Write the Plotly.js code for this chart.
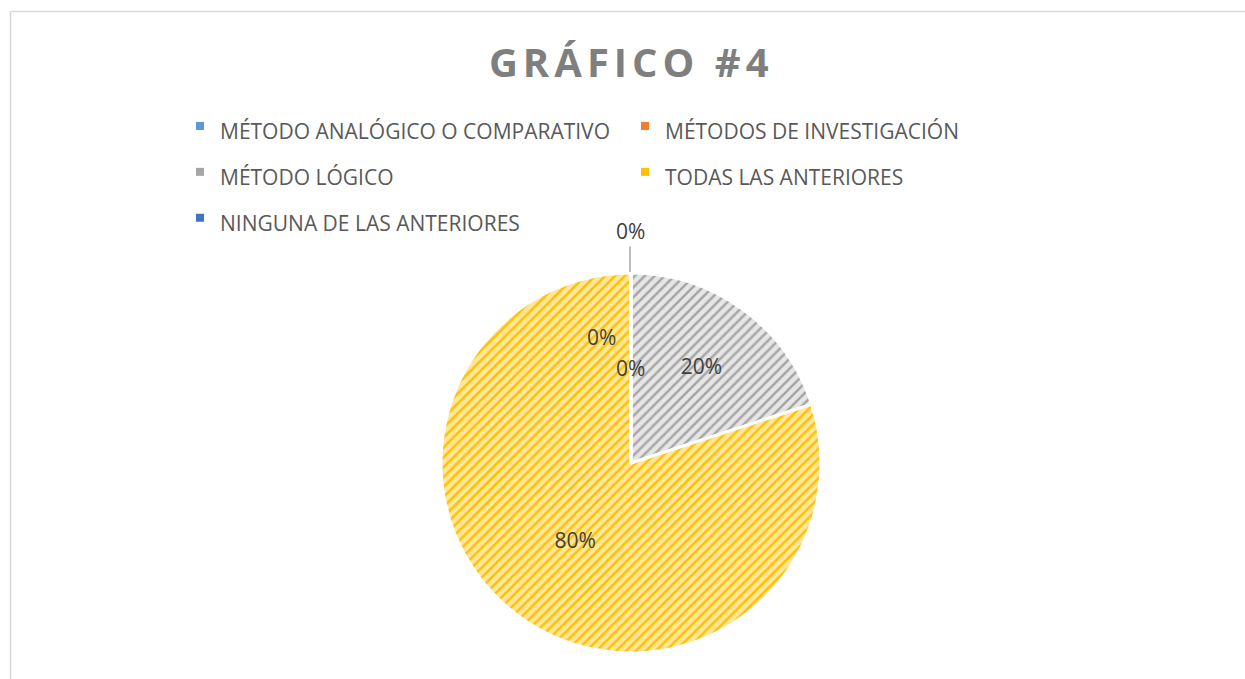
<!DOCTYPE html>
<html>
<head>
<meta charset="utf-8">
<script src="https://cdn.plot.ly/plotly-3.0.1.min.js"></script>
<style>
html,body{margin:0;padding:0;background:#fff;}
#chart{width:1245px;height:679px;}
</style>
</head>
<body>
<div id="chart"></div>
<script>
const categories = [
  "MÉTODO ANALÓGICO O COMPARATIVO",
  "MÉTODOS DE INVESTIGACIÓN",
  "MÉTODO LÓGICO",
  "TODAS LAS ANTERIORES",
  "NINGUNA DE LAS ANTERIORES"
];
const values = [0, 0, 20, 80, 0];
const chartTitle = "GRÁFICO #4";

const baseColors = ["#9dc3e6", "#f4b183", "#e6e6e6", "#ffe699", "#8faadc"];
const stripeColors = ["#5b9bd5", "#ed7d31", "#a5a5a5", "#ffc000", "#4472c4"];

const W = 1245, H = 679;
const cx = 631, cy = 463, R = 190;

const total = values.reduce((a, b) => a + b, 0);
const pctText = values.map(v => Math.round(v / total * 100) + "%");

const trace = {
  type: "pie",
  labels: categories.map(c => '<span style="font-size:21px">' + c + '</span>'),
  values: values,
  sort: false,
  direction: "clockwise",
  rotation: 0,
  texttemplate: values.map(v => v > 0 ? "%{percent:.0%}" : ""),
  textposition: "inside",
  textfont: {family: "Open Sans, sans-serif", size: 21, color: "#404040"},
  insidetextorientation: "horizontal",
  marker: {
    colors: baseColors,
    line: {color: "#ffffff", width: 3},
    pattern: {shape: "/", fgcolor: stripeColors, bgcolor: baseColors, size: 7, solidity: 0.35}
  },
  hoverinfo: "label+percent",
  domain: {
    x: [(cx - R) / W, (cx + R) / W],
    y: [(H - cy - R) / H, (H - cy + R) / H]
  }
};

const labelFont = {family: "Open Sans, sans-serif", size: 21, color: "#404040"};
const annotations = [
  {xref: "paper", yref: "paper", x: 601 / W, y: 1 - 337 / H, text: pctText[0], showarrow: false, font: labelFont},
  {xref: "paper", yref: "paper", x: 630 / W, y: 1 - 368 / H, text: pctText[1], showarrow: false, font: labelFont},
  {xref: "paper", yref: "paper", x: 630 / W, y: 1 - 272 / H, text: pctText[4], showarrow: true,
   ax: 0, ay: -41, arrowhead: 0, arrowwidth: 1.5, arrowcolor: "#a6a6a6", standoff: 0, font: labelFont}
];

const layout = {
  width: W, height: H,
  margin: {l: 0, r: 0, t: 0, b: 0},
  paper_bgcolor: "#ffffff",
  showlegend: true,
  title: {
    text: "<b>" + chartTitle + "</b>",
    x: 0.507, xanchor: "center",
    y: 1 - 63 / H, yanchor: "middle",
    font: {family: "Open Sans, sans-serif", size: 40, color: "#7f7f7f"}
  },
  legend: {
    orientation: "h",
    x: 180 / W, xanchor: "left",
    y: 1 - 98 / H, yanchor: "top",
    entrywidth: 400,
    entrywidthmode: "pixels",
    font: {family: "Open Sans, sans-serif", size: 33, color: "#595959"},
    itemwidth: 30,
    traceorder: "normal"
  },
  annotations: annotations,
  shapes: [
    {type: "line", xref: "paper", yref: "paper", x0: 10.5 / W, x1: 1, y0: 1 - 11.5 / H, y1: 1 - 11.5 / H, line: {color: "#d9d9d9", width: 1.5}},
    {type: "line", xref: "paper", yref: "paper", x0: 10.5 / W, x1: 10.5 / W, y0: 0, y1: 1 - 11.5 / H, line: {color: "#d9d9d9", width: 1.5}}
  ]
};

Plotly.newPlot("chart", [trace], layout, {displayModeBar: false, staticPlot: true}).then(function () {
  document.querySelectorAll(".gtitle").forEach(function (t) { t.style.letterSpacing = "5px"; });
  document.querySelectorAll(".legend .traces").forEach(function (g, i) {
    const p = g.querySelector(".legendpoints path");
    if (p) {
      p.setAttribute("d", "M4,4H-4V-4H4Z");
      p.style.fill = stripeColors[i];
      p.style.stroke = "none";
      p.style.strokeWidth = "0";
    }
  });
});
</script>
</body>
</html>
